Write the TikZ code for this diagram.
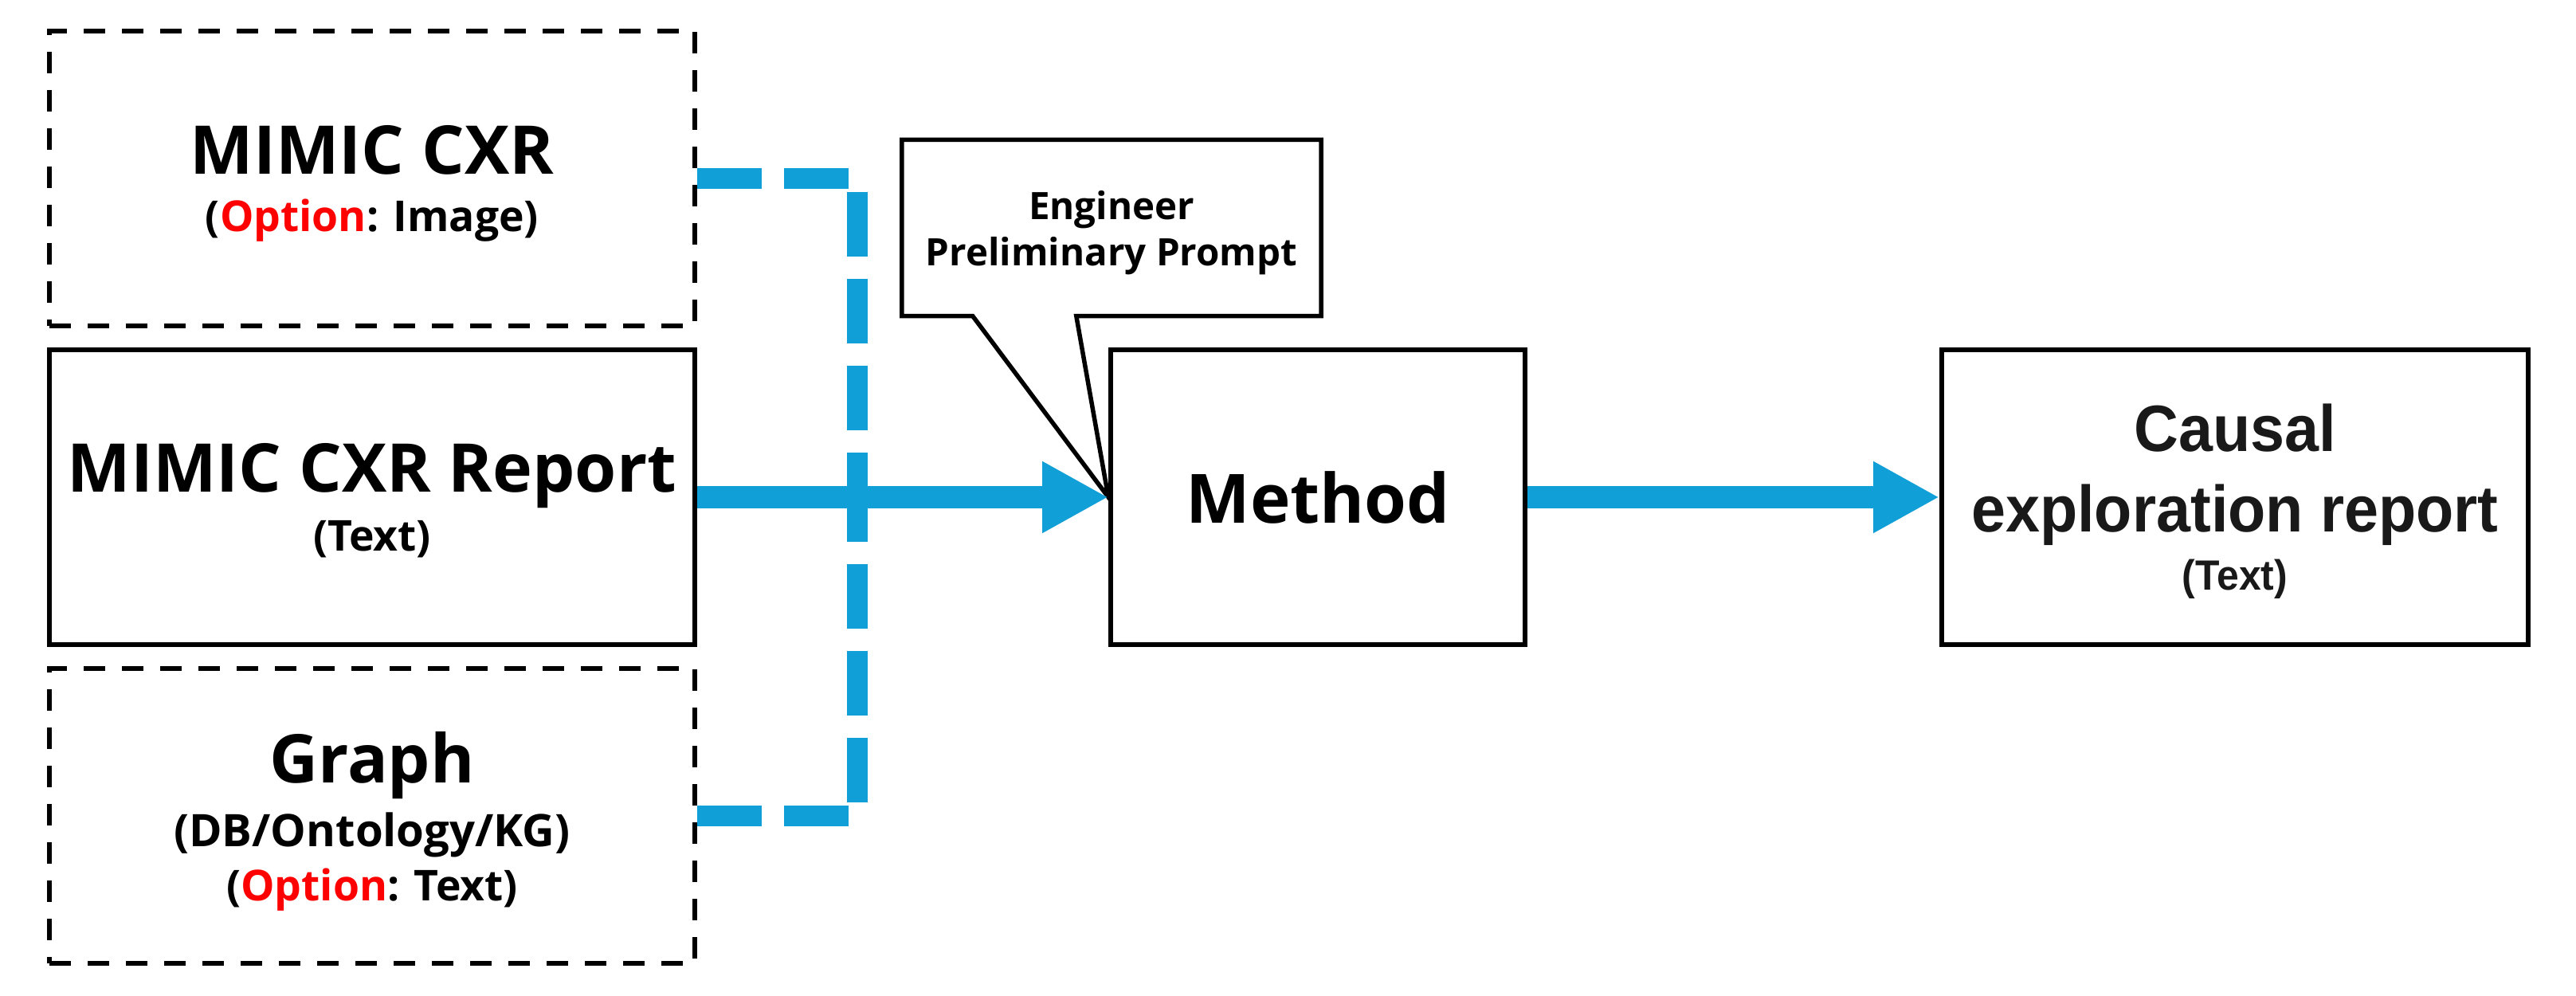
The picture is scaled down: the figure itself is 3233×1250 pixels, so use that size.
\documentclass[tikz,border=0pt]{standalone}
\usepackage{fontspec}
\setmainfont{Open Sans}
\newfontfamily\reportfont[FakeStretch=0.94, UprightFont={* Bold}]{Liberation Sans}
\usetikzlibrary{arrows.meta}
\definecolor{flowblue}{RGB}{17,159,215}
\newcommand{\sublabel}[1]{{\fontsize{15.2}{18}\selectfont #1}}
\newcommand{\option}{\textcolor{red}{Option}}

\begin{document}
\begin{tikzpicture}[x=0.1mm, y=-0.1mm,
    databox/.style={draw, line width=0.6mm, minimum width=81mm, minimum height=37mm,
      align=center, text depth=-2.5pt, font=\bfseries\fontsize{24}{20.5}\selectfont},
    optbox/.style={databox, dash pattern=on 2.7mm off 2.1mm},
    flow/.style={flowblue, line width=2.75mm, -{Triangle[length=8.3mm, width=8.4mm]}},
    optflow/.style={flowblue, line width=2.6mm, dash pattern=on 8.1mm off 2.8mm}]
  \useasboundingbox (0,0) rectangle (3233,1250);

  % inputs
  \node[optbox] (image) at (467,224) {MIMIC CXR\\ \sublabel{(\option: Image)}};
  \node[databox, font=\bfseries\fontsize{24}{20.8}\selectfont] (report) at (467,624)
    {MIMIC CXR Report\\ \sublabel{(Text)}};
  \node[optbox, font=\bfseries\fontsize{24}{19.3}\selectfont] (graph) at (467,1024)
    {Graph\\[3.5pt] {\fontsize{16}{18}\selectfont (DB/Ontology/KG)}\\ \sublabel{(\option: Text)}};

  % method and output
  \node[databox, minimum width=52mm, text depth=0pt,
    font=\bfseries\fontsize{24.3}{26}\selectfont] (method) at (1654,624) {Method};
  \node[databox, minimum width=73.6mm, text=black!90, text depth=-1.5pt,
    font=\reportfont\fontsize{23.4}{20.8}\selectfont] (result) at (2805,624)
    {Causal\\[8pt] exploration report\\ {\fontsize{15.1}{18}\selectfont (Text)}};

  % prompt callout
  \node[minimum width=52.5mm, minimum height=22mm, align=center, text depth=-1pt,
    font=\bfseries\fontsize{13.5}{16.5}\selectfont] (prompt) at (1395,286)
    {Engineer\\Preliminary Prompt};
  \draw[line width=0.55mm, line join=miter] (prompt.north west) -- (prompt.north east)
    -- (prompt.south east) -- ([xshift=21.9mm]prompt.south west) -- (method.west)
    -- ([xshift=8.9mm]prompt.south west) -- (prompt.south west) -- cycle;

  % connectors
  \coordinate (merge) at (1076,624);
  \draw[optflow] (image.east) -| (merge);
  \draw[optflow] (graph.east) -| (merge);
  \draw[flow] (report) -- (method);
  \draw[flow] (method) -- (result);
\end{tikzpicture}
\end{document}
